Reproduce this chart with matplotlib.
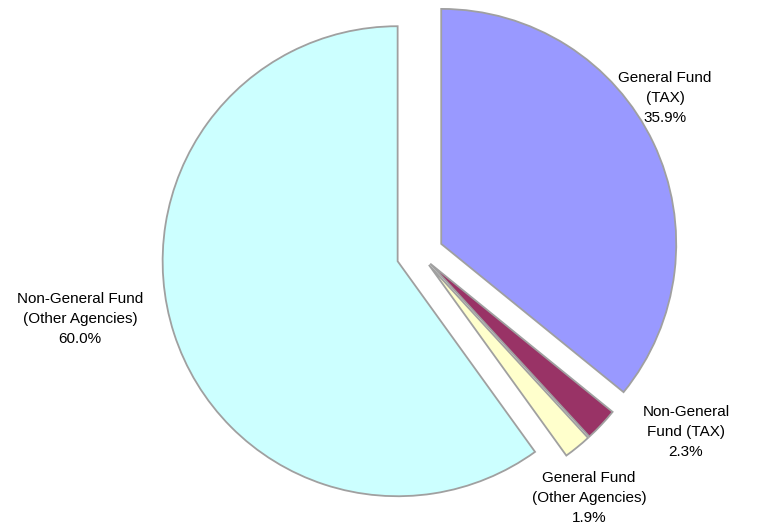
import matplotlib.pyplot as plt

plt.rcParams['font.family'] = ['Liberation Sans', 'DejaVu Sans']

# slices, clockwise from 12 o'clock
labels = ["General Fund\n(TAX)", "Non-General\nFund (TAX)",
          "General Fund\n(Other Agencies)", "Non-General Fund\n(Other Agencies)"]
shares = [35.9, 2.3, 1.9, 60.0]
colors = ["#9999FF", "#993366", "#FFFFCC", "#CCFFFF"]
explode = [0.10, 0.06, 0.06, 0.10]

# label anchor positions in pie-radius units (relative to pie centre)
label_pos = [(1.043, 0.664), (1.132, -0.757), (0.719, -1.038), (-1.447, -0.277)]

fig = plt.figure(figsize=(7.67, 5.31), dpi=100)
ax = fig.add_axes([0, 0, 1, 1])

wedges, _ = ax.pie(shares, colors=colors, explode=explode, startangle=90,
                   counterclock=False, radius=1.0,
                   wedgeprops=dict(edgecolor="#A0A0A0", linewidth=1.3))

for lab, val, (x, y) in zip(labels, shares, label_pos):
    ax.text(x, y, f"{lab}\n{val:.1f}%", ha="center", va="center",
            fontsize=11, linespacing=1.58, color="black")

ax.set_xlim(-420 / 235, (767 - 420) / 235)
ax.set_ylim(-(531 - 254) / 235, 254 / 235)
ax.set_aspect("equal")
ax.axis("off")

fig.savefig("out.png", dpi=100, facecolor="white")
